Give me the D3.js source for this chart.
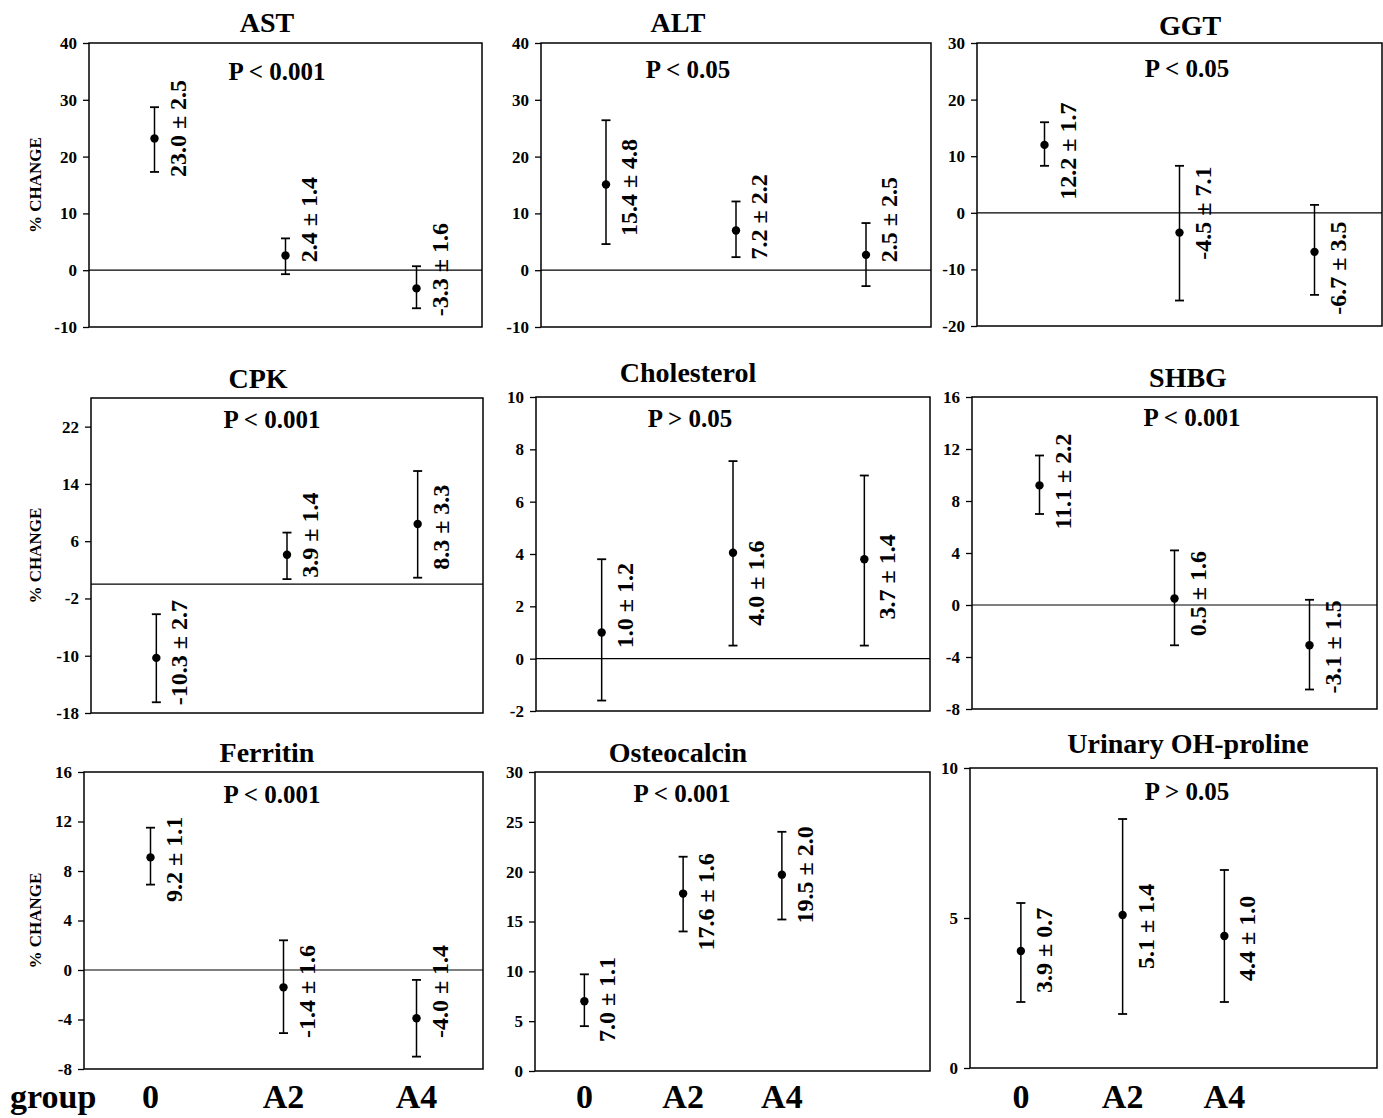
<!DOCTYPE html>
<html lang="en">
<head>
<meta charset="UTF-8">
<title>% change by group</title>
<style>
  body { margin: 0; background: #fff; }
  svg text { font-family: "Liberation Serif", "Times New Roman", serif; font-weight: bold; fill: #000; }
</style>
</head>
<body>
<script src="https://d3js.org/d3.v7.min.js"></script>
<div id="chart"></div>
<script>

// data
const titles = ["AST", "ALT", "GGT", "CPK", "Cholesterol", "SHBG", "Ferritin", "Osteocalcin", "Urinary OH-proline"];
const pValues = ["P < 0.001", "P < 0.05", "P < 0.05", "P < 0.001", "P > 0.05", "P < 0.001", "P < 0.001", "P < 0.001", "P > 0.05"];
const groups = ["0", "A2", "A4"];

// plotted point (mean) and the ends of the drawn error bars
const means = [
  [23.2, 2.6, -3.2],
  [15.1, 7.0, 2.7],
  [12.0, -3.5, -6.9],
  [-10.3, 4.1, 8.4],
  [1.0, 4.05, 3.8],
  [9.2, 0.5, -3.1],
  [9.1, -1.4, -3.9],
  [7.0, 17.8, 19.7],
  [3.9, 5.1, 4.4]
];
const lowers = [
  [17.3, -0.7, -6.7],
  [4.6, 2.3, -2.8],
  [8.3, -15.5, -14.5],
  [-16.5, 0.7, 0.9],
  [-1.6, 0.5, 0.5],
  [7.0, -3.1, -6.5],
  [6.9, -5.1, -7.0],
  [4.5, 14.0, 15.2],
  [2.2, 1.8, 2.2]
];
const uppers = [
  [28.7, 5.6, 0.7],
  [26.4, 12.1, 8.3],
  [16.0, 8.3, 1.4],
  [-4.2, 7.2, 15.8],
  [3.8, 7.55, 7.0],
  [11.5, 4.2, 0.4],
  [11.5, 2.4, -0.8],
  [9.7, 21.5, 24.0],
  [5.5, 8.3, 6.6]
];
const labels = [
  ["23.0 ± 2.5", "2.4 ± 1.4", "-3.3 ± 1.6"],
  ["15.4 ± 4.8", "7.2 ± 2.2", "2.5 ± 2.5"],
  ["12.2 ± 1.7", "-4.5 ± 7.1", "-6.7 ± 3.5"],
  ["-10.3 ± 2.7", "3.9 ± 1.4", "8.3 ± 3.3"],
  ["1.0 ± 1.2", "4.0 ± 1.6", "3.7 ± 1.4"],
  ["11.1 ± 2.2", "0.5 ± 1.6", "-3.1 ± 1.5"],
  ["9.2 ± 1.1", "-1.4 ± 1.6", "-4.0 ± 1.4"],
  ["7.0 ± 1.1", "17.6 ± 1.6", "19.5 ± 2.0"],
  ["3.9 ± 0.7", "5.1 ± 1.4", "4.4 ± 1.0"]
];
// value on the y scale where each rotated label starts
const labelStart = [
  [16.4, 1.4, -8.1],
  [6.0, 1.9, 1.4],
  [2.3, -8.3, -18.0],
  [-16.9, 0.9, 2.0],
  [0.4, 1.26, 1.5],
  [5.8, -2.4, -6.8],
  [5.5, -5.5, -5.5],
  [2.9, 12.1, 14.8],
  [2.5, 3.3, 2.9]
];
const yDomains = [[-10, 40], [-10, 40], [-20, 30], [-18, 26], [-2, 10], [-8, 16], [-8, 16], [0, 30], [0, 10]];
const yTicks = [
  [-10, 0, 10, 20, 30, 40],
  [-10, 0, 10, 20, 30, 40],
  [-20, -10, 0, 10, 20, 30],
  [-18, -10, -2, 6, 14, 22],
  [-2, 0, 2, 4, 6, 8, 10],
  [-8, -4, 0, 4, 8, 12, 16],
  [-8, -4, 0, 4, 8, 12, 16],
  [0, 5, 10, 15, 20, 25, 30],
  [0, 5, 10]
];
const xSlots = [3, 3, 3, 3, 3, 3, 3, 4, 4];

// panel frames: left, top, right, bottom; title & P text positions
const layout = [
  {l: 89,  t: 43,  r: 482,  b: 327,  tx: 267,  ty: 32,  px: 277,  py: 80},
  {l: 541, t: 43,  r: 931,  b: 327,  tx: 678,  ty: 32,  px: 688,  py: 78},
  {l: 977, t: 43,  r: 1382, b: 326,  tx: 1190, ty: 35,  px: 1187, py: 77},
  {l: 91,  t: 398, r: 483,  b: 713,  tx: 258,  ty: 388, px: 272,  py: 428},
  {l: 536, t: 397, r: 930,  b: 711,  tx: 688,  ty: 382, px: 690,  py: 427},
  {l: 972, t: 397, r: 1377, b: 709,  tx: 1188, ty: 387, px: 1192, py: 426},
  {l: 84,  t: 772, r: 483,  b: 1069, tx: 267,  ty: 762, px: 272,  py: 803},
  {l: 535, t: 772, r: 930,  b: 1071, tx: 678,  ty: 762, px: 682,  py: 802},
  {l: 970, t: 768, r: 1377, b: 1068, tx: 1188, ty: 753, px: 1187, py: 800}
];

const width = 1383, height = 1118;

const svg = d3.select("#chart")
  .append("svg")
  .attr("width", width)
  .attr("height", height);

titles.forEach((title, i) => {
  const L = layout[i];
  const g = svg.append("g");

  const slots = groups.slice();
  while (slots.length < xSlots[i]) slots.push("_" + slots.length);
  const x = d3.scalePoint().domain(slots).range([L.l, L.r]).padding(0.5);
  const y = d3.scaleLinear().domain(yDomains[i]).range([L.b, L.t]);

  // y axis (plain hyphen for negatives, as in the figure)
  const axis = g.append("g")
    .attr("transform", "translate(" + L.l + ",0)")
    .call(d3.axisLeft(y).tickValues(yTicks[i]).tickSize(6).tickPadding(6).tickFormat(d => String(d)));
  axis.attr("font-size", null).attr("font-family", null);
  axis.select(".domain").remove();
  axis.selectAll(".tick line").attr("stroke", "#000").attr("stroke-width", 1.3);
  axis.selectAll(".tick text")
    .style("font-size", "17px")
    .style("font-weight", "bold");

  // frame
  g.append("rect")
    .attr("x", L.l).attr("y", L.t)
    .attr("width", L.r - L.l).attr("height", L.b - L.t)
    .attr("fill", "none").attr("stroke", "#000").attr("stroke-width", 1.5);

  // zero line
  if (yDomains[i][0] < 0) {
    g.append("line")
      .attr("x1", L.l).attr("x2", L.r)
      .attr("y1", y(0)).attr("y2", y(0))
      .attr("stroke", "#000").attr("stroke-width", 1.2);
  }

  // error bars
  const rows = groups.map((grp, j) => ({grp, m: means[i][j], lo: lowers[i][j], hi: uppers[i][j], lab: labels[i][j], ls: labelStart[i][j]}));
  const bars = g.selectAll(".bar").data(rows).enter().append("g");
  bars.append("line")
    .attr("x1", d => x(d.grp)).attr("x2", d => x(d.grp))
    .attr("y1", d => y(d.lo)).attr("y2", d => y(d.hi))
    .attr("stroke", "#000").attr("stroke-width", 1.5);
  ["lo", "hi"].forEach(k => {
    bars.append("line")
      .attr("x1", d => x(d.grp) - 4.5).attr("x2", d => x(d.grp) + 4.5)
      .attr("y1", d => y(d[k])).attr("y2", d => y(d[k]))
      .attr("stroke", "#000").attr("stroke-width", 1.8);
  });
  bars.append("circle")
    .attr("cx", d => x(d.grp)).attr("cy", d => y(d.m))
    .attr("r", 4.2).attr("fill", "#000");

  // rotated value labels
  bars.append("text")
    .attr("transform", d => "translate(" + (x(d.grp) + 31) + "," + y(d.ls) + ") rotate(-90)")
    .attr("text-anchor", "start")
    .style("font-size", "24px")
    .text(d => d.lab);

  // title and p value
  svg.append("text")
    .attr("x", L.tx).attr("y", L.ty)
    .attr("text-anchor", "middle")
    .style("font-size", "28px")
    .text(title);
  svg.append("text")
    .attr("x", L.px).attr("y", L.py)
    .attr("text-anchor", "middle")
    .style("font-size", "25px")
    .text(pValues[i]);

  // y title on the left column
  if (i % 3 === 0) {
    svg.append("text")
      .attr("transform", "translate(41," + ((L.t + L.b) / 2) + ") rotate(-90)")
      .attr("text-anchor", "middle")
      .style("font-size", "17px")
      .text("% CHANGE");
  }

  // group labels under the bottom row
  if (i >= 6) {
    g.selectAll(".grp").data(groups).enter().append("text")
      .attr("x", d => x(d))
      .attr("y", 1108)
      .attr("text-anchor", "middle")
      .style("font-size", "34px")
      .text(d => d);
  }
});

svg.append("text")
  .attr("x", 10).attr("y", 1108)
  .style("font-size", "34px")
  .text("group");

</script>
</body>
</html>
